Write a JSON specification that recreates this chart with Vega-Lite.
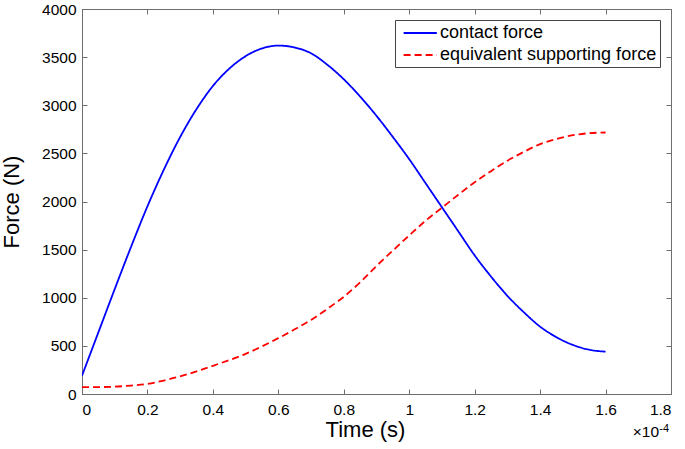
{
  "$schema": "https://vega.github.io/schema/vega-lite/v6.json",
  "width": 589,
  "height": 385,
  "autosize": "none",
  "padding": {"left": 82, "top": 9, "right": 14, "bottom": 55},
  "background": "white",
  "config": {
    "font": "Liberation Sans",
    "view": {"stroke": "#6e6e6e", "strokeWidth": 1},
    "axis": {
      "grid": false,
      "domainColor": "#6e6e6e",
      "tickColor": "#6e6e6e",
      "tickSize": -5,
      "labelFont": "Liberation Sans",
      "labelFontSize": 15.5,
      "labelColor": "#000000",
      "titleFont": "Liberation Sans",
      "titleFontSize": 22,
      "titleFontWeight": "normal",
      "titleColor": "#000000"
    }
  },
  "datasets": {
    "curves": [
      {"time": 0, "force": 190, "series": "contact force"},
      {"time": 0.05, "force": 640, "series": "contact force"},
      {"time": 0.1, "force": 1090, "series": "contact force"},
      {"time": 0.15, "force": 1530, "series": "contact force"},
      {"time": 0.2, "force": 1950, "series": "contact force"},
      {"time": 0.25, "force": 2330, "series": "contact force"},
      {"time": 0.3, "force": 2670, "series": "contact force"},
      {"time": 0.35, "force": 2960, "series": "contact force"},
      {"time": 0.4, "force": 3200, "series": "contact force"},
      {"time": 0.45, "force": 3380, "series": "contact force"},
      {"time": 0.5, "force": 3510, "series": "contact force"},
      {"time": 0.55, "force": 3590, "series": "contact force"},
      {"time": 0.6, "force": 3620, "series": "contact force"},
      {"time": 0.65, "force": 3600, "series": "contact force"},
      {"time": 0.7, "force": 3540, "series": "contact force"},
      {"time": 0.75, "force": 3420, "series": "contact force"},
      {"time": 0.8, "force": 3270, "series": "contact force"},
      {"time": 0.85, "force": 3090, "series": "contact force"},
      {"time": 0.9, "force": 2890, "series": "contact force"},
      {"time": 0.95, "force": 2670, "series": "contact force"},
      {"time": 1.0, "force": 2440, "series": "contact force"},
      {"time": 1.05, "force": 2190, "series": "contact force"},
      {"time": 1.1, "force": 1940, "series": "contact force"},
      {"time": 1.15, "force": 1690, "series": "contact force"},
      {"time": 1.2, "force": 1440, "series": "contact force"},
      {"time": 1.25, "force": 1220, "series": "contact force"},
      {"time": 1.3, "force": 1020, "series": "contact force"},
      {"time": 1.35, "force": 850, "series": "contact force"},
      {"time": 1.4, "force": 700, "series": "contact force"},
      {"time": 1.45, "force": 590, "series": "contact force"},
      {"time": 1.5, "force": 510, "series": "contact force"},
      {"time": 1.55, "force": 460, "series": "contact force"},
      {"time": 1.6, "force": 440, "series": "contact force"},
      {"time": 0, "force": 72, "series": "equivalent supporting force"},
      {"time": 0.05, "force": 72, "series": "equivalent supporting force"},
      {"time": 0.1, "force": 76, "series": "equivalent supporting force"},
      {"time": 0.15, "force": 88, "series": "equivalent supporting force"},
      {"time": 0.2, "force": 105, "series": "equivalent supporting force"},
      {"time": 0.25, "force": 140, "series": "equivalent supporting force"},
      {"time": 0.3, "force": 183, "series": "equivalent supporting force"},
      {"time": 0.35, "force": 235, "series": "equivalent supporting force"},
      {"time": 0.4, "force": 293, "series": "equivalent supporting force"},
      {"time": 0.45, "force": 352, "series": "equivalent supporting force"},
      {"time": 0.5, "force": 417, "series": "equivalent supporting force"},
      {"time": 0.55, "force": 495, "series": "equivalent supporting force"},
      {"time": 0.6, "force": 580, "series": "equivalent supporting force"},
      {"time": 0.65, "force": 672, "series": "equivalent supporting force"},
      {"time": 0.7, "force": 770, "series": "equivalent supporting force"},
      {"time": 0.75, "force": 885, "series": "equivalent supporting force"},
      {"time": 0.8, "force": 1010, "series": "equivalent supporting force"},
      {"time": 0.85, "force": 1160, "series": "equivalent supporting force"},
      {"time": 0.9, "force": 1330, "series": "equivalent supporting force"},
      {"time": 0.95, "force": 1490, "series": "equivalent supporting force"},
      {"time": 1.0, "force": 1648, "series": "equivalent supporting force"},
      {"time": 1.05, "force": 1800, "series": "equivalent supporting force"},
      {"time": 1.1, "force": 1935, "series": "equivalent supporting force"},
      {"time": 1.15, "force": 2070, "series": "equivalent supporting force"},
      {"time": 1.2, "force": 2200, "series": "equivalent supporting force"},
      {"time": 1.25, "force": 2315, "series": "equivalent supporting force"},
      {"time": 1.3, "force": 2424, "series": "equivalent supporting force"},
      {"time": 1.35, "force": 2515, "series": "equivalent supporting force"},
      {"time": 1.4, "force": 2596, "series": "equivalent supporting force"},
      {"time": 1.45, "force": 2650, "series": "equivalent supporting force"},
      {"time": 1.5, "force": 2689, "series": "equivalent supporting force"},
      {"time": 1.55, "force": 2710, "series": "equivalent supporting force"},
      {"time": 1.6, "force": 2717, "series": "equivalent supporting force"}
    ],
    "exponent": [{"base": "×10", "power": "-4"}]
  },
  "layer": [
    {
      "data": {"name": "curves"},
      "mark": {"type": "line", "strokeWidth": 1.8, "clip": true, "interpolate": "monotone"},
      "encoding": {
        "x": {
          "field": "time", "type": "quantitative",
          "scale": {"domain": [0, 1.8], "nice": false},
          "axis": {"orient": "bottom", "values": [0, 0.2, 0.4, 0.6, 0.8, 1, 1.2, 1.4, 1.6, 1.8], "format": "~g", "labelPadding": 13, "title": "Time (s)", "titlePadding": 2, "titleX": 283}
        },
        "y": {
          "field": "force", "type": "quantitative",
          "scale": {"domain": [0, 4000], "nice": false},
          "axis": {"orient": "left", "values": [0, 500, 1000, 1500, 2000, 2500, 3000, 3500, 4000], "format": "d", "labelPadding": 11, "title": "Force (N)", "titlePadding": 18}
        },
        "color": {
          "field": "series", "type": "nominal",
          "scale": {"domain": ["contact force", "equivalent supporting force"], "range": ["#0000ff", "#ff0000"]},
          "legend": {
            "title": null,
            "orient": "none",
            "legendX": 313,
            "legendY": 11,
            "symbolType": "M-0.5,0H3.3",
            "symbolSize": 306,
            "symbolStrokeWidth": 1.8,
            "labelFont": "Liberation Sans",
            "labelFontSize": 18,
            "labelColor": "#000000",
            "labelLimit": 0,
            "labelOffset": 22,
            "rowPadding": 3,
            "padding": 3,
            "strokeColor": "#444444",
            "fillColor": "white"
          }
        },
        "strokeDash": {
          "field": "series", "type": "nominal",
          "scale": {"domain": ["contact force", "equivalent supporting force"], "range": [[1, 0], [7, 4]]},
          "legend": null
        }
      }
    },
    {
      "data": {"name": "curves"},
      "mark": {"type": "point", "opacity": 0},
      "encoding": {
        "x": {
          "field": "time", "type": "quantitative",
          "axis": {"orient": "top", "values": [0, 0.2, 0.4, 0.6, 0.8, 1, 1.2, 1.4, 1.6, 1.8], "labels": false, "title": null}
        },
        "y": {
          "field": "force", "type": "quantitative",
          "axis": {"orient": "right", "values": [0, 500, 1000, 1500, 2000, 2500, 3000, 3500, 4000], "labels": false, "title": null}
        }
      }
    },
    {
      "data": {"name": "exponent"},
      "mark": {"type": "text", "align": "right", "baseline": "alphabetic", "dx": -12, "dy": 43, "fontSize": 15.5, "font": "Liberation Sans", "color": "#000000"},
      "encoding": {
        "x": {"datum": 1.8, "type": "quantitative", "axis": null},
        "y": {"datum": 0, "type": "quantitative", "axis": null},
        "text": {"field": "base"}
      }
    },
    {
      "data": {"name": "exponent"},
      "mark": {"type": "text", "align": "right", "baseline": "alphabetic", "dx": -2, "dy": 38, "fontSize": 11, "font": "Liberation Sans", "color": "#000000"},
      "encoding": {
        "x": {"datum": 1.8, "type": "quantitative", "axis": null},
        "y": {"datum": 0, "type": "quantitative", "axis": null},
        "text": {"field": "power"}
      }
    }
  ],
  "resolve": {"axis": {"x": "independent", "y": "independent"}}
}
